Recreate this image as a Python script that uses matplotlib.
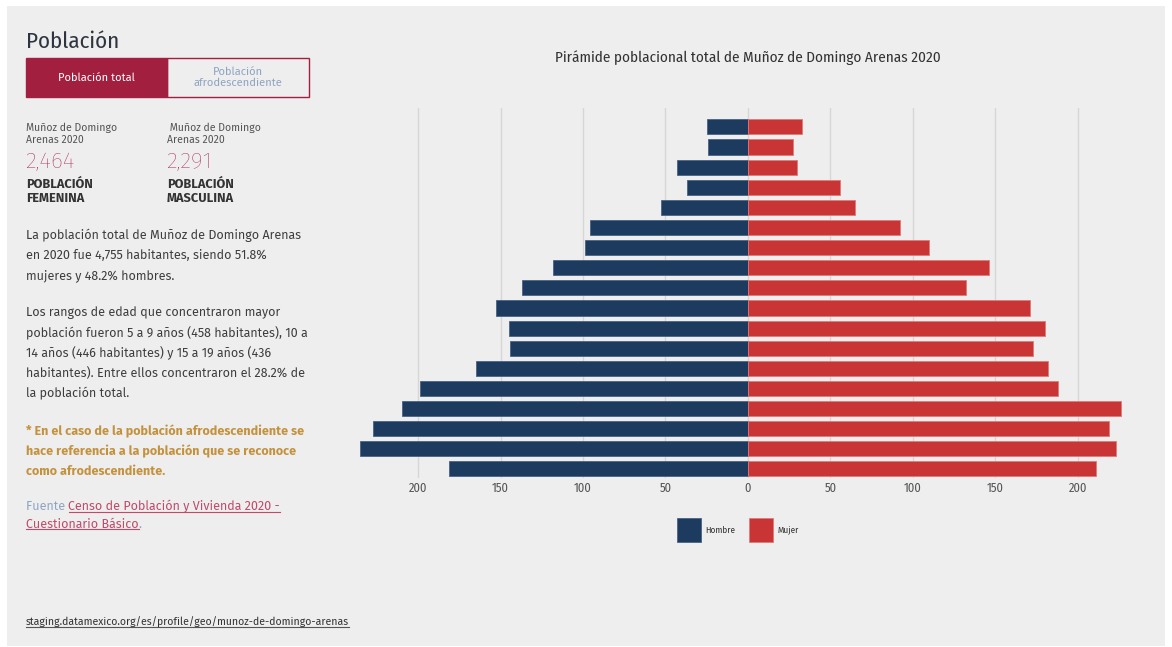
import matplotlib.pyplot as plt
from matplotlib.patches import Rectangle
from matplotlib.lines import Line2D

# grupos de edad, de abajo (0-4) hacia arriba (85+)
edades = ['0 a 4', '5 a 9', '10 a 14', '15 a 19', '20 a 24', '25 a 29', '30 a 34',
          '35 a 39', '40 a 44', '45 a 49', '50 a 54', '55 a 59', '60 a 64',
          '65 a 69', '70 a 74', '75 a 79', '80 a 84', '85 +']
hombre = [181, 235, 227, 210, 199, 165, 144, 145, 153, 137, 118, 99, 96, 53, 37, 43, 24, 25]
mujer = [211, 223, 219, 226, 188, 182, 173, 180, 171, 132, 146, 110, 92, 65, 56, 30, 27, 33]
ticks = [-200, -150, -100, -50, 0, 50, 100, 150, 200]

W, H = 1172, 647
C_H = '#1d3b5e'
C_M = '#c93434'
CRIMSON = '#a31f40'
FONT = ['Fira Sans', 'Roboto', 'DejaVu Sans']
COND = ['Fira Sans Condensed', 'Fira Sans', 'DejaVu Sans']
plt.rcParams['font.family'] = FONT


def fx(x):
    return x / W


def fy(y):
    return 1 - y / H


fig = plt.figure(figsize=(W / 100, H / 100), dpi=100, facecolor='white')
fig.patches.append(Rectangle((fx(7), fy(646)), fx(1158), (640) / H,
                             transform=fig.transFigure, facecolor='#eeeeee',
                             edgecolor='none', zorder=-10))

# grafica
ax = fig.add_axes([fx(358.6), fy(478), fx(765.6), 370 / H])
ax.set_facecolor('none')
y = list(range(len(edades)))
bh = ax.barh(y, [-v for v in hombre], height=0.75, color=C_H, edgecolor='#4a6485', linewidth=0.6, label='Hombre')
bm = ax.barh(y, mujer, height=0.75, color=C_M, edgecolor='#e07a7a', linewidth=0.6, label='Mujer')
ax.set_xlim(-236, 228)
ax.set_ylim(-0.45, 17.94)
ax.set_xticks(ticks)
ax.set_xticklabels([str(abs(t)) for t in ticks], color='#555555', fontsize=9, family=COND)
ax.set_yticks([])
ax.tick_params(axis='x', length=0, pad=3)
for s in ax.spines.values():
    s.set_visible(False)
ax.grid(axis='x', color='#d6d6d6', linewidth=1)
ax.set_axisbelow(True)

fig.text(fx(748), fy(58), 'Pirámide poblacional total de Muñoz de Domingo Arenas 2020',
         ha='center', va='center', fontsize=10.9, color='#333333', family=COND)

fig.legend(handles=[bh, bm], labels=['Hombre', 'Mujer'], loc='center',
           bbox_to_anchor=(fx(738), fy(530)), ncol=2, frameon=False,
           prop={'family': COND, 'size': 6.5},
           handlelength=2.7, handleheight=3.6, handletextpad=0.5, columnspacing=1.5,
           labelcolor='#333333')

# panel izquierdo
fig.text(fx(26), fy(42), 'Población', ha='left', va='center', fontsize=16.5, color='#2e3440', family=COND)

fig.patches.append(Rectangle((fx(26), fy(97)), fx(141), 39 / H, transform=fig.transFigure,
                             facecolor=CRIMSON, edgecolor=CRIMSON, linewidth=1))
fig.patches.append(Rectangle((fx(167), fy(97)), fx(142), 39 / H, transform=fig.transFigure,
                             facecolor='none', edgecolor=CRIMSON, linewidth=1))
fig.text(fx(96.5), fy(77.5), 'Población total', ha='center', va='center', fontsize=8, color='white')
fig.text(fx(238), fy(77.5), 'Población\nafrodescendiente', ha='center', va='center',
         fontsize=8, color='#8ea5c2', linespacing=1.1)

for x0, lugar, num, tipo in [(26, 'Muñoz de Domingo\nArenas 2020', '2,464', 'POBLACIÓN\nFEMENINA'),
                             (167, ' Muñoz de Domingo\nArenas 2020', '2,291', 'POBLACIÓN\nMASCULINA')]:
    fig.text(fx(x0), fy(133.5), lugar, ha='left', va='center', fontsize=7.5,
             color='#555555', linespacing=1.15)
    fig.text(fx(x0 - 1), fy(162), num, ha='left', va='center', fontsize=16.5,
             color='#a82a50', fontweight='light')
    fig.text(fx(x0), fy(191.5), tipo, ha='left', va='center', fontsize=9.2,
             color='#333333', fontweight='bold', linespacing=1.2)

parrafo1 = ['La población total de Muñoz de Domingo Arenas',
            'en 2020 fue 4,755 habitantes, siendo 51.8%',
            'mujeres y 48.2% hombres.']
parrafo2 = ['Los rangos de edad que concentraron mayor',
            'población fueron 5 a 9 años (458 habitantes), 10 a',
            '14 años (446 habitantes) y 15 a 19 años (436',
            'habitantes). Entre ellos concentraron el 28.2% de',
            'la población total.']
nota = ['* En el caso de la población afrodescendiente se',
        'hace referencia a la población que se reconoce',
        'como afrodescendiente.']

for i, t in enumerate(parrafo1):
    fig.text(fx(26), fy(235 + 20.2 * i), t, ha='left', va='center', fontsize=9, color='#3d3d3d')
for i, t in enumerate(parrafo2):
    fig.text(fx(26), fy(313 + 20.2 * i), t, ha='left', va='center', fontsize=9, color='#3d3d3d')
for i, t in enumerate(nota):
    fig.text(fx(26), fy(431 + 20 * i), t, ha='left', va='center', fontsize=9,
             color='#c4913d', fontweight='bold')

fuente = fig.text(fx(26), fy(506), 'Fuente ', ha='left', va='center', fontsize=9, color='#8ea5c2')
fig.canvas.draw()
r = fig.canvas.get_renderer()
bb = fuente.get_window_extent(r)
link1 = fig.text(bb.x1 / W, fy(506), 'Censo de Población y Vivienda 2020 -', ha='left',
                 va='center', fontsize=9, color='#c04a6a')
link2 = fig.text(fx(26), fy(524), 'Cuestionario Básico', ha='left', va='center',
                 fontsize=9, color='#c04a6a')
footer = fig.text(fx(26), fy(622), 'staging.datamexico.org/es/profile/geo/munoz-de-domingo-arenas',
                  ha='left', va='center', fontsize=7.5, color='#333333')
fig.canvas.draw()
for t, c in [(link1, '#c04a6a'), (link2, '#c04a6a'), (footer, '#555555')]:
    b = t.get_window_extent(r)
    fig.lines.append(Line2D([b.x0 / W, b.x1 / W], [(b.y0 + 1) / H] * 2,
                            transform=fig.transFigure, color=c, linewidth=0.8))
b2 = link2.get_window_extent(r)
fig.text(b2.x1 / W, fy(524), '.', ha='left', va='center', fontsize=9, color='#8ea5c2')

fig.savefig('out.png', dpi=100, facecolor='white')
